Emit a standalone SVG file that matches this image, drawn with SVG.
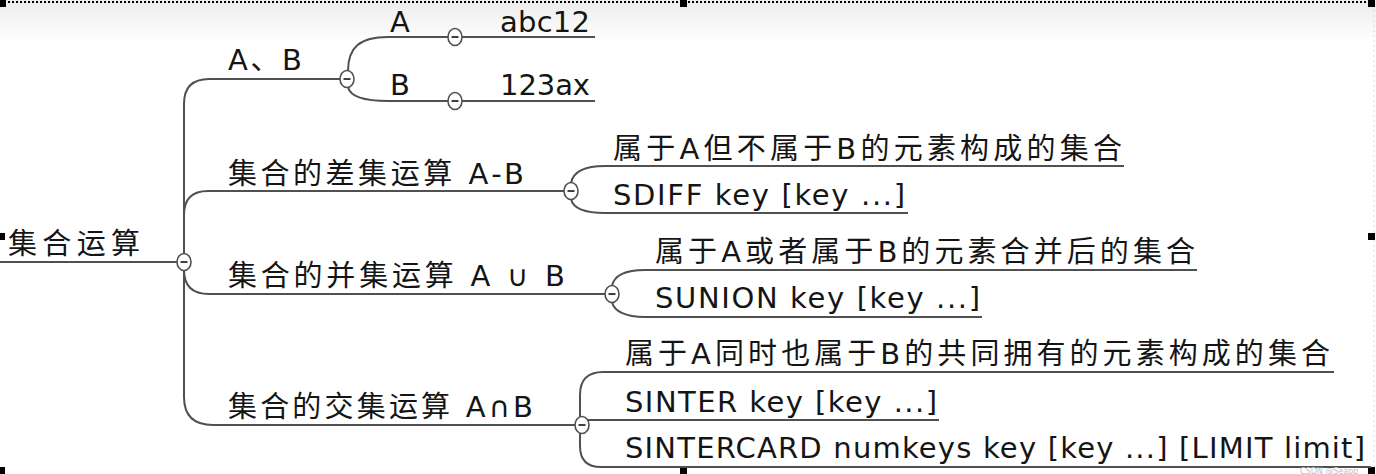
<svg xmlns="http://www.w3.org/2000/svg" width="1376" height="474" viewBox="0 0 1376 474">
<style>
.t{font-family:"DejaVu Sans","Noto Sans CJK SC",sans-serif;font-size:29px;fill:#151515}
.c{stroke:#505050;stroke-width:2;fill:none}
.k{fill:#fff;stroke:#505050;stroke-width:1.6}
.m{stroke:#404040;stroke-width:2}
.h{fill:#000}
</style>
<defs>
<linearGradient id="bg" x1="0" y1="0" x2="0" y2="1">
<stop offset="0" stop-color="#ececec"/>
<stop offset="1" stop-color="#ffffff"/>
</linearGradient>
<g id="col"><ellipse rx="7" ry="8.5" class="k"/><line x1="-3.5" y1="0" x2="3.5" y2="0" class="m"/></g>
</defs>
<rect width="1376" height="474" fill="#fff"/>
<rect width="1376" height="42" fill="url(#bg)"/>
<line x1="0" y1="2" x2="1376" y2="2" stroke="#000" stroke-width="2" stroke-dasharray="2 2"/>
<line x1="1374" y1="0" x2="1374" y2="474" stroke="#ddd" stroke-width="1" stroke-dasharray="2 3"/>
<g id="handles">
<rect class="h" x="0" y="0" width="6" height="7"/>
<rect class="h" x="680" y="0" width="7" height="7"/>
<rect class="h" x="1368" y="0" width="7" height="7"/>
<rect class="h" x="0" y="233" width="5" height="7"/>
<rect class="h" x="1368" y="233" width="7" height="7"/>
<rect class="h" x="0" y="467" width="5" height="7"/>
<rect class="h" x="680" y="467" width="7" height="7"/>
<rect class="h" x="1368" y="467" width="7" height="7"/>
</g>
<g id="connectors">
<path class="c" d="M0,262 H177"/>
<path class="c" d="M184,254 V104 Q184,79 209,79 H340"/>
<path class="c" d="M184,254 V215 Q184,191 208,191 H564"/>
<path class="c" d="M184,270 Q184,294 209,294 H605"/>
<path class="c" d="M184,270 V397 Q184,425 213,425 H575"/>
<path class="c" d="M348,71 C348,47 360,37 388,37 H448"/>
<path class="c" d="M462,37 H595"/>
<path class="c" d="M348,87 C350,96 364,101 388,101 H448"/>
<path class="c" d="M462,101 H595"/>
<path class="c" d="M571,183 C573,172 585,166 605,166 H1124"/>
<path class="c" d="M571,199 C573,208 585,213 605,213 H908"/>
<path class="c" d="M612,286 C614,276 625,270 645,270 H1197"/>
<path class="c" d="M612,302 C614,311 625,317 645,317 H982"/>
<path class="c" d="M580,417 V395 Q580,372 603,372 H1334"/>
<path class="c" d="M588,420 H939"/>
<path class="c" d="M580,433 V446 Q580,467 601,467 H1371"/>
</g>
<g id="root"><text class="t" x="8" y="254" textLength="132">集合运算</text><use href="#col" x="184" y="262"/></g>
<g id="ab"><text class="t" x="228" y="70" textLength="74">A、B</text><use href="#col" x="347" y="79"/></g>
<g id="a"><text class="t" x="390" y="32">A</text><use href="#col" x="455" y="37"/></g>
<g id="a-val"><text class="t" x="500" y="32" textLength="90">abc12</text></g>
<g id="b"><text class="t" x="390" y="95">B</text><use href="#col" x="455" y="101"/></g>
<g id="b-val"><text class="t" x="500" y="95" textLength="90">123ax</text></g>
<g id="diff"><text class="t" x="228" y="184" textLength="296">集合的差集运算 A-B</text><use href="#col" x="571" y="191"/></g>
<g id="diff-desc"><text class="t" x="613" y="159" textLength="509">属于A但不属于B的元素构成的集合</text></g>
<g id="diff-cmd"><text class="t" x="613" y="205" textLength="292">SDIFF key [key ...]</text></g>
<g id="union"><text class="t" x="228" y="286" textLength="337">集合的并集运算 A ∪ B</text><use href="#col" x="612" y="294"/></g>
<g id="union-desc"><text class="t" x="655" y="262" textLength="540">属于A或者属于B的元素合并后的集合</text></g>
<g id="union-cmd"><text class="t" x="655" y="308" textLength="325">SUNION key [key ...]</text></g>
<g id="inter"><text class="t" x="228" y="417" textLength="305">集合的交集运算 A∩B</text><use href="#col" x="582" y="425"/></g>
<g id="inter-desc"><text class="t" x="625" y="364" textLength="705">属于A同时也属于B的共同拥有的元素构成的集合</text></g>
<g id="inter-cmd1"><text class="t" x="625" y="412" textLength="312">SINTER key [key ...]</text></g>
<g id="inter-cmd2"><text class="t" x="625" y="458" textLength="740">SINTERCARD numkeys key [key ...] [LIMIT limit]</text></g>
<text x="1300" y="474" font-family="DejaVu Sans, sans-serif" font-size="8" fill="#c0c0c0">CSDN @Seapp</text>
</svg>
